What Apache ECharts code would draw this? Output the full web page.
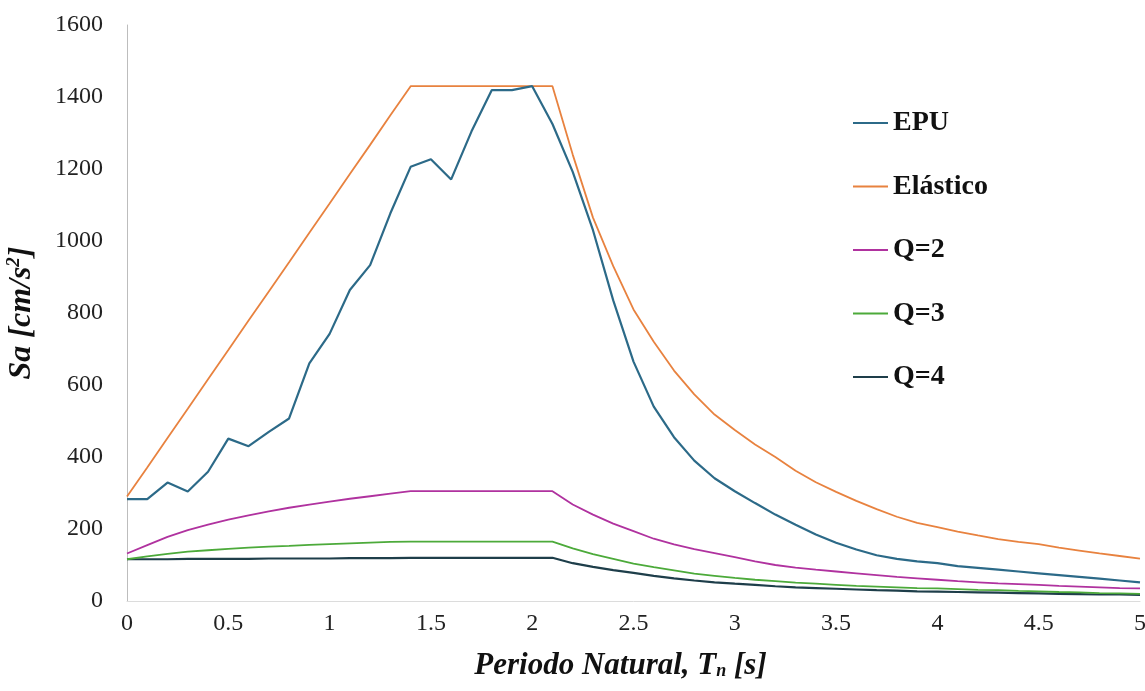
<!DOCTYPE html>
<html>
<head>
<meta charset="utf-8">
<title>Espectros</title>
<script src="https://cdn.jsdelivr.net/npm/echarts@6/dist/echarts.min.js"></script>
<style>
  html, body { margin: 0; padding: 0; background: #fff; }
  #chart { width: 1145px; height: 691px; }
</style>
</head>
<body>
<div id="chart"></div>
<script>
// periodo natural, paso 0.1 s
var periods = [0, 0.1, 0.2, 0.3, 0.4, 0.5, 0.6, 0.7, 0.8, 0.9, 1.0,
  1.1, 1.2, 1.3, 1.4, 1.5, 1.6, 1.7, 1.8, 1.9, 2.0,
  2.1, 2.2, 2.3, 2.4, 2.5, 2.6, 2.7, 2.8, 2.9, 3.0,
  3.1, 3.2, 3.3, 3.4, 3.5, 3.6, 3.7, 3.8, 3.9, 4.0,
  4.1, 4.2, 4.3, 4.4, 4.5, 4.6, 4.7, 4.8, 4.9, 5.0];

var epu = [283, 283, 329, 304, 359, 451, 430, 470, 507, 660, 742,
  864, 933, 1077, 1206, 1227, 1171, 1304, 1419, 1419, 1430,
  1325, 1192, 1030, 835, 665, 540, 455, 390, 341, 305,
  272, 240, 212, 185, 162, 143, 127, 117, 110, 105,
  97, 92, 87, 82, 77, 72, 67, 62, 57, 52];

var elastico = [290, 371, 453, 534, 616, 697, 779, 860, 941, 1023, 1104,
  1186, 1267, 1349, 1430, 1430, 1430, 1430, 1430, 1430, 1430,
  1430, 1240, 1065, 930, 810, 720, 640, 574, 518, 475,
  435, 400, 362, 330, 303, 278, 255, 234, 217, 205,
  193, 182, 172, 164, 158, 148, 140, 132, 125, 118];

var q2 = [132, 155, 178, 197, 212, 226, 238, 249, 259, 268, 276,
  284, 291, 298, 305, 305, 305, 305, 305, 305, 305,
  305, 268, 240, 215, 194, 173, 157, 144, 133, 122,
  110, 100, 93, 87, 82, 77, 72, 67, 63, 59,
  55, 52, 49, 47, 45, 42, 40, 38, 36, 35];

var q3 = [116, 124, 131, 137, 141, 145, 148, 151, 153, 156, 158,
  160, 162, 164, 165, 165, 165, 165, 165, 165, 165,
  165, 146, 130, 117, 104, 94, 85, 76, 70, 64,
  59, 55, 51, 48, 45, 42, 40, 38, 36, 35,
  33, 31, 30, 28, 27, 25, 24, 22, 21, 20];

var q4 = [116, 116, 116, 117, 117, 117, 117, 118, 118, 118, 118,
  119, 119, 119, 120, 120, 120, 120, 120, 120, 120,
  120, 105, 95, 86, 78, 70, 63, 57, 52, 48,
  45, 41, 38, 36, 34, 32, 30, 29, 27, 26,
  25, 24, 23, 22, 21, 20, 19, 18, 18, 17];

var seriesNames = ["EPU", "Elástico", "Q=2", "Q=3", "Q=4"];
var seriesData = [epu, elastico, q2, q3, q4];
var colors = ["#2c6a88", "#e8823f", "#b0329f", "#4caa3a", "#1e3e4a"];
var widths = [2.2, 1.8, 1.8, 1.8, 2.2];

var chart = echarts.init(document.getElementById("chart"));
var serif = "'Liberation Serif', 'DejaVu Serif', serif";

var option = {
  backgroundColor: "#fff",
  color: colors,
  animation: false,
  grid: {
    left: 127,
    right: 5,
    top: 25,
    bottom: 90,
    outerBoundsMode: "none"
  },
  legend: {
    orient: "vertical",
    left: 853,
    top: 109,
    padding: 0,
    itemGap: 35.5,
    itemWidth: 35,
    itemHeight: 2,
    icon: "rect",
    textStyle: {
      fontFamily: serif,
      fontWeight: "bold",
      fontSize: 28,
      lineHeight: 26,
      color: "#111"
    },
    data: seriesNames
  },
  xAxis: {
    type: "value",
    min: 0,
    max: 5,
    interval: 0.5,
    splitLine: { show: false },
    axisTick: { show: false },
    axisLine: { show: true, onZero: false, lineStyle: { color: "#dcdcdc", width: 1 } },
    axisLabel: {
      color: "#222",
      fontFamily: serif,
      fontSize: 24,
      margin: 11
    },
    name: "{a|Periodo Natural, T}{sub|n}{a| [s]}",
    nameLocation: "middle",
    nameGap: 49,
    nameTextStyle: {
      padding: [0, 26, 0, 0],
      rich: {
        a: { fontFamily: serif, fontStyle: "italic", fontWeight: "bold", fontSize: 31, color: "#111" },
        sub: { fontFamily: serif, fontStyle: "italic", fontWeight: "bold", fontSize: 18, color: "#111", padding: [12, 0, 0, 0] }
      }
    }
  },
  yAxis: {
    type: "value",
    min: 0,
    max: 1600,
    interval: 200,
    splitLine: { show: false },
    axisTick: { show: false },
    axisLine: { show: true, lineStyle: { color: "#bdbdbd", width: 1 } },
    axisLabel: {
      color: "#222",
      fontFamily: serif,
      fontSize: 24,
      margin: 24,
      formatter: function (v) { return String(v); }
    },
    name: "{a|Sa [cm/s}{sup|2}{a|]}",
    nameLocation: "middle",
    nameGap: 89,
    nameTextStyle: {
      rich: {
        a: { fontFamily: serif, fontStyle: "italic", fontWeight: "bold", fontSize: 32, color: "#111" },
        sup: { fontFamily: serif, fontStyle: "italic", fontWeight: "bold", fontSize: 19, color: "#111", padding: [0, 0, 14, 0] }
      }
    }
  },
  series: []
};

seriesNames.forEach(function (name, i) {
  option.series.push({
    name: name,
    type: "line",
    symbol: "none",
    z: 10 - i,
    lineStyle: { width: widths[i], color: colors[i] },
    data: periods.map(function (t, k) { return [t, seriesData[i][k]]; })
  });
});

chart.setOption(option);
</script>
</body>
</html>
